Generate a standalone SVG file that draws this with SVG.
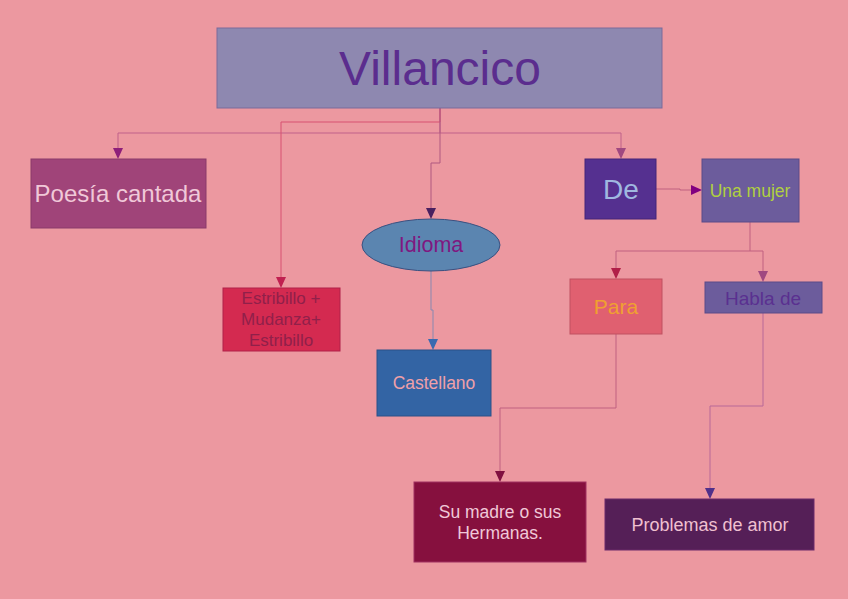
<svg xmlns="http://www.w3.org/2000/svg" width="848" height="599" viewBox="0 0 848 599">
<defs>
<style>
text{font-family:"Liberation Sans",Arial,sans-serif;text-anchor:middle}
.c{fill:none;stroke-width:1}
</style>
</defs>
<rect width="848" height="599" fill="#EC98A0"/>
<g id="connectors">
<path class="c" d="M440,108V133H118V150" stroke="#C0608A"/><path d="M113,148h10l-5,11z" fill="#8E1F7A"/>
<path class="c" d="M440,133H621V150" stroke="#C0608A"/><path d="M616,148h10l-5,11z" fill="#A04880"/>
<path class="c" d="M440,108V122H281V279" stroke="#D85070"/><path d="M276,277h10l-5,11z" fill="#C02050"/>
<path class="c" d="M440,108V163H431V210" stroke="#B05880"/><path d="M426,208h10l-5,11z" fill="#4A2060"/>
<path class="c" d="M431,271V310H433V341" stroke="#8888B0"/><path d="M428,339h10l-5,11z" fill="#3A6AB0"/>
<path class="c" d="M656,189H680V190H693" stroke="#C06080"/><path d="M691,185v10l11,-5z" fill="#800080"/>
<path class="c" d="M750,222V251H616V270" stroke="#C06080"/><path d="M611,268h10l-5,11z" fill="#B02048"/>
<path class="c" d="M750,251H763V273" stroke="#C06080"/><path d="M758,271h10l-5,11z" fill="#A04880"/>
<path class="c" d="M616,334V408H500V473" stroke="#C06080"/><path d="M495,471h10l-5,11z" fill="#801040"/>
<path class="c" d="M763,313V406H710V490" stroke="#B86898"/><path d="M705,488h10l-5,11z" fill="#50308A"/>
</g>
<g id="villancico"><rect x="217" y="28" width="445" height="80" fill="#8E88B0" stroke="#7A6A9A"/><text x="440" y="85" font-size="48" fill="#5B2D8E">Villancico</text></g>
<g id="poesia"><rect x="31" y="159" width="175" height="69" fill="#A04479" stroke="#8A3A6A"/><text x="118" y="202" font-size="24" fill="#F0C8D8">Poesía cantada</text></g>
<g id="estribillo"><rect x="223" y="288" width="117" height="63" fill="#D42A50" stroke="#B02048"/><text font-size="17" fill="#90204A"><tspan x="281" y="304">Estribillo +</tspan><tspan x="281" y="325">Mudanza+</tspan><tspan x="281" y="346">Estribillo</tspan></text></g>
<g id="idioma"><ellipse cx="431" cy="245" rx="69" ry="26" fill="#5B85B0" stroke="#3A5080"/><text x="431" y="252" font-size="21.5" fill="#801880">Idioma</text></g>
<g id="castellano"><rect x="377" y="350" width="114" height="66" fill="#3364A4" stroke="#2A5088"/><text x="434" y="389" font-size="17.5" fill="#F0A0A8">Castellano</text></g>
<g id="de"><rect x="585" y="159" width="71" height="60" fill="#553090" stroke="#442478"/><text x="621" y="199" font-size="28" fill="#A0B8E0">De</text></g>
<g id="unamujer"><rect x="702" y="159" width="97" height="63" fill="#6C5C9C" stroke="#5A4A88"/><text x="750" y="197" font-size="17.5" fill="#B0D040">Una mujer</text></g>
<g id="para"><rect x="570" y="279" width="92" height="55" fill="#E06070" stroke="#C05060"/><text x="616" y="314" font-size="21" fill="#F0A030">Para</text></g>
<g id="hablade"><rect x="705" y="282" width="117" height="31" fill="#6C5C9C" stroke="#5A4A88"/><text x="763" y="305" font-size="19" fill="#5A3090">Habla de</text></g>
<g id="sumadre"><rect x="414" y="482" width="172" height="80" fill="#86103E" stroke="#A03060"/><text font-size="17.5" fill="#F0C8D8"><tspan x="500" y="518">Su madre o sus</tspan><tspan x="500" y="539">Hermanas.</tspan></text></g>
<g id="problemas"><rect x="605" y="499" width="209" height="51" fill="#551F57" stroke="#6A2A6A"/><text x="710" y="531" font-size="18" fill="#F0C0D0">Problemas de amor</text></g>
</svg>
